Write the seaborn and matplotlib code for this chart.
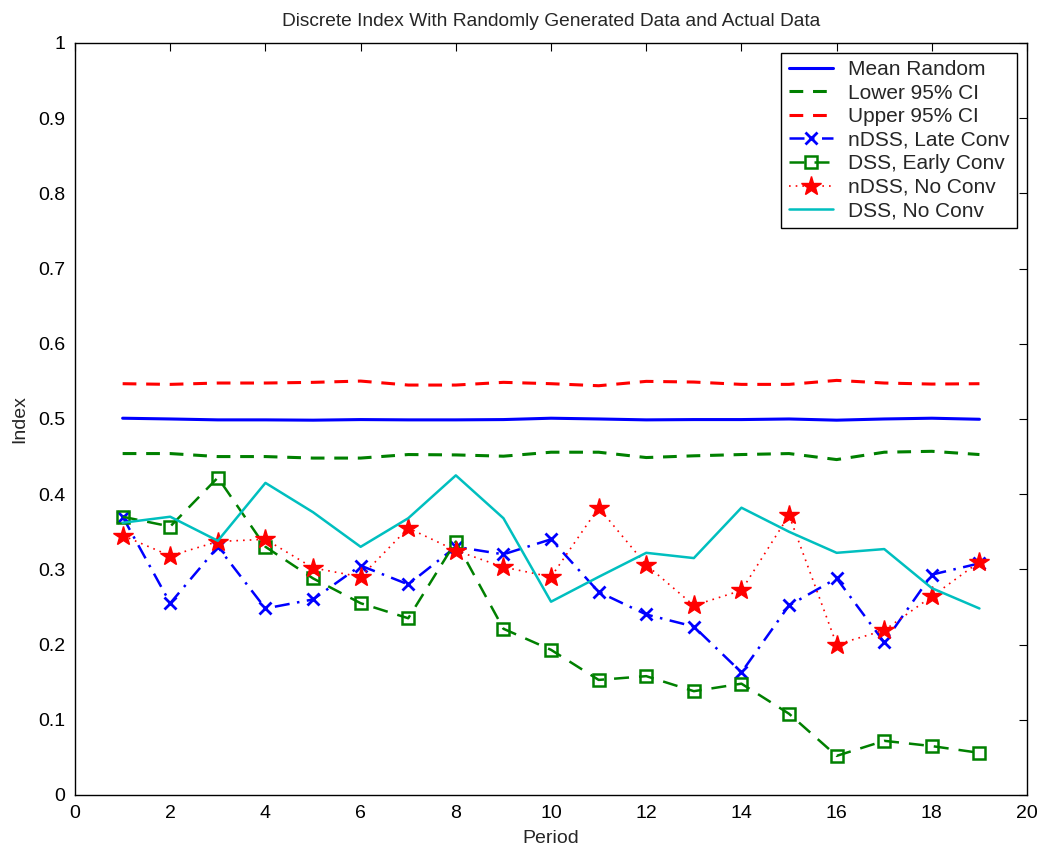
import matplotlib
matplotlib.use("Agg")
import matplotlib.pyplot as plt
import seaborn as sns
import numpy as np

periods = list(range(1, 20))

mean_random = [0.501, 0.500, 0.4988, 0.4988, 0.4984, 0.4992, 0.4988, 0.4988, 0.4992,
               0.501, 0.500, 0.4988, 0.4992, 0.4992, 0.500, 0.4984, 0.500, 0.501, 0.4996]
lower_ci = [0.454, 0.454, 0.450, 0.450, 0.448, 0.448, 0.4527, 0.4522, 0.4505,
            0.4558, 0.4558, 0.4487, 0.451, 0.4527, 0.454, 0.446, 0.4558, 0.457, 0.4527]
upper_ci = [0.5469, 0.546, 0.5478, 0.5478, 0.5487, 0.5504, 0.5451, 0.5451, 0.5487,
            0.5469, 0.5442, 0.5500, 0.5491, 0.546, 0.546, 0.5513, 0.5478, 0.5464, 0.5469]
ndss_late = [0.370, 0.255, 0.330, 0.248, 0.260, 0.305, 0.280, 0.330, 0.320,
             0.340, 0.270, 0.240, 0.224, 0.163, 0.252, 0.288, 0.203, 0.293, 0.308]
dss_early = [0.370, 0.357, 0.422, 0.330, 0.288, 0.255, 0.235, 0.337, 0.221,
             0.193, 0.153, 0.158, 0.138, 0.148, 0.108, 0.052, 0.072, 0.065, 0.056]
ndss_none = [0.345, 0.318, 0.337, 0.340, 0.302, 0.290, 0.355, 0.325, 0.303,
             0.290, 0.382, 0.306, 0.252, 0.272, 0.372, 0.200, 0.219, 0.264, 0.310]
dss_none = [0.362, 0.370, 0.338, 0.415, 0.376, 0.330, 0.368, 0.425, 0.368,
            0.257, 0.290, 0.322, 0.315, 0.382, 0.350, 0.322, 0.327, 0.275, 0.248]
ytick_labels = ["0", "0.1", "0.2", "0.3", "0.4", "0.5", "0.6", "0.7", "0.8", "0.9", "1"]

sns.set_style("white")
plt.rcParams["font.family"] = ["Liberation Sans", "DejaVu Sans"]

fig = plt.figure(figsize=(10.48, 8.56), dpi=100)
ax = fig.add_axes([0.0716, 0.0713, 0.9084, 0.8785])

x = np.array(periods)
blue, green, red, cyan = "#0000ff", "#008000", "#ff0000", "#00bfbf"
dash = (4.5, 3.2)

sns.lineplot(x=x, y=mean_random, ax=ax, color=blue, lw=2.2, label="Mean Random")
sns.lineplot(x=x, y=lower_ci, ax=ax, color=green, lw=2.2, linestyle=(0, dash),
             label="Lower 95% CI")
sns.lineplot(x=x, y=upper_ci, ax=ax, color=red, lw=2.2, linestyle=(0, dash),
             label="Upper 95% CI")
sns.lineplot(x=x, y=ndss_late, ax=ax, color=blue, lw=1.8,
             linestyle=(0, (6, 3, 1, 3)), marker="x", markersize=8, mew=2,
             mec=blue, label="nDSS, Late Conv")
sns.lineplot(x=x, y=dss_early, ax=ax, color=green, lw=1.8, linestyle=(0, (6, 4)),
             marker="s", markersize=8, mfc="none", mec=green, mew=1.8,
             label="DSS, Early Conv")
sns.lineplot(x=x, y=ndss_none, ax=ax, color=red, lw=1.2, linestyle=(0, (1, 3)),
             marker="*", markersize=15, mec=red, mew=1.0, label="nDSS, No Conv")
sns.lineplot(x=x, y=dss_none, ax=ax, color=cyan, lw=1.8, label="DSS, No Conv")

ax.set_xlim(0, 20)
ax.set_ylim(0, 1)
ax.set_xticks(np.arange(0, 21, 2))
ax.set_yticks(np.linspace(0, 1, 11))
ax.set_yticklabels(ytick_labels)
ax.tick_params(direction="in", length=6, width=0.8, top=True, right=True,
               labelsize=14, colors="black", pad=7)
for s in ax.spines.values():
    s.set_visible(True)
    s.set_color("black")
    s.set_linewidth(1.0)

ax.set_xlabel("Period", fontsize=14, labelpad=6)
ax.set_ylabel("Index", fontsize=14, labelpad=7)
ax.set_title("Discrete Index With Randomly Generated Data and Actual Data",
             fontsize=13.8, pad=12)

leg = ax.legend(loc="upper right", bbox_to_anchor=(0.9895, 0.987), fontsize=15,
                frameon=True, fancybox=False, framealpha=1, edgecolor="black",
                handlelength=2.1, handletextpad=0.75, labelspacing=0.22,
                borderpad=0.35, borderaxespad=0)
leg.get_frame().set_linewidth(1.0)

fig.savefig("out.png", dpi=100)
